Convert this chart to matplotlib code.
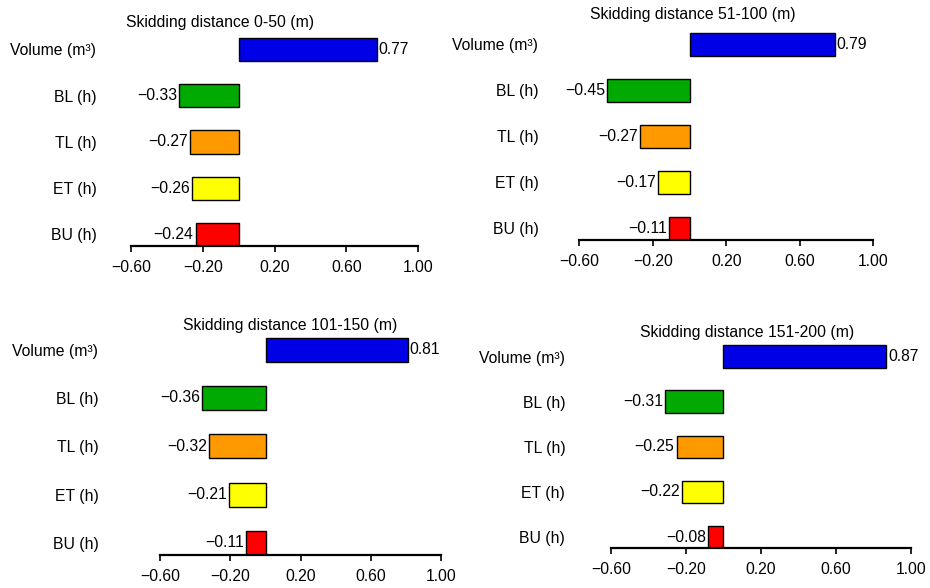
import matplotlib
matplotlib.use("Agg")
import matplotlib.pyplot as plt
from matplotlib.ticker import FuncFormatter

plt.rcParams['font.family'] = ['Liberation Sans Narrow', 'Liberation Sans', 'DejaVu Sans']

rows = ["Volume (m³)", "BL (h)", "TL (h)", "ET (h)", "BU (h)"]
colors = ["#0000e6", "#00aa00", "#ff9900", "#ffff00", "#ff0000"]

titles = ["Skidding distance 0-50 (m)", "Skidding distance 51-100 (m)",
          "Skidding distance 101-150 (m)", "Skidding distance 151-200 (m)"]
d_0_50 = [0.77, -0.33, -0.27, -0.26, -0.24]
d_51_100 = [0.79, -0.45, -0.27, -0.17, -0.11]
d_101_150 = [0.81, -0.36, -0.32, -0.21, -0.11]
d_151_200 = [0.87, -0.31, -0.25, -0.22, -0.08]
xticks = [-0.6, -0.2, 0.2, 0.6, 1.0]

W, H = 930, 588
FS = 11.3


def minus(v):
    return f"{v:.2f}".replace("-", "\u2212")


def main():
    fig = plt.figure(figsize=(W / 100, H / 100), dpi=100)
    fig.patch.set_facecolor("white")

    # (left, right, top, bottom) in pixels, y-label pad, title centre
    layout = [
        ((131, 418, 21.7, 246), 25, (220, 23)),
        ((579.3, 873.3, 16.4, 240), 29.5, (693, 15)),
        ((160.3, 441, 320.7, 555), 44.6, (290, 326)),
        ((611, 910.7, 329.6, 548.3), 33, (747.5, 332)),
    ]
    data = [d_0_50, d_51_100, d_101_150, d_151_200]

    for (box, ypad, tpos), vals, title in zip(layout, data, titles):
        l, r, t, b = box
        ax = fig.add_axes([l / W, 1 - b / H, (r - l) / W, (b - t) / H])
        y = list(range(len(rows)))
        bars = ax.barh(y, vals, height=0.5, color=colors,
                       edgecolor="black", linewidth=1.0)
        ax.bar_label(bars, fmt=minus, padding=1.5, fontsize=FS)
        ax.set_xlim(-0.6, 1.0)
        ax.set_ylim(4.25, -0.6)
        ax.set_yticks(y)
        ax.set_yticklabels(rows, fontsize=FS)
        ax.tick_params(axis="y", length=0, pad=ypad)
        ax.set_xticks(xticks)
        ax.xaxis.set_major_formatter(FuncFormatter(lambda v, p: minus(v)))
        ax.tick_params(axis="x", direction="out", length=4, width=1.2,
                       labelsize=FS, pad=6)
        for s in ["left", "right", "top"]:
            ax.spines[s].set_visible(False)
        ax.spines["bottom"].set_linewidth(1.6)
        ax.patch.set_alpha(0)
        fig.text(tpos[0] / W, 1 - tpos[1] / H, title, ha="center",
                 va="center", fontsize=FS)

    fig.savefig("out.png", dpi=100)


if __name__ == '__main__':
    main()
